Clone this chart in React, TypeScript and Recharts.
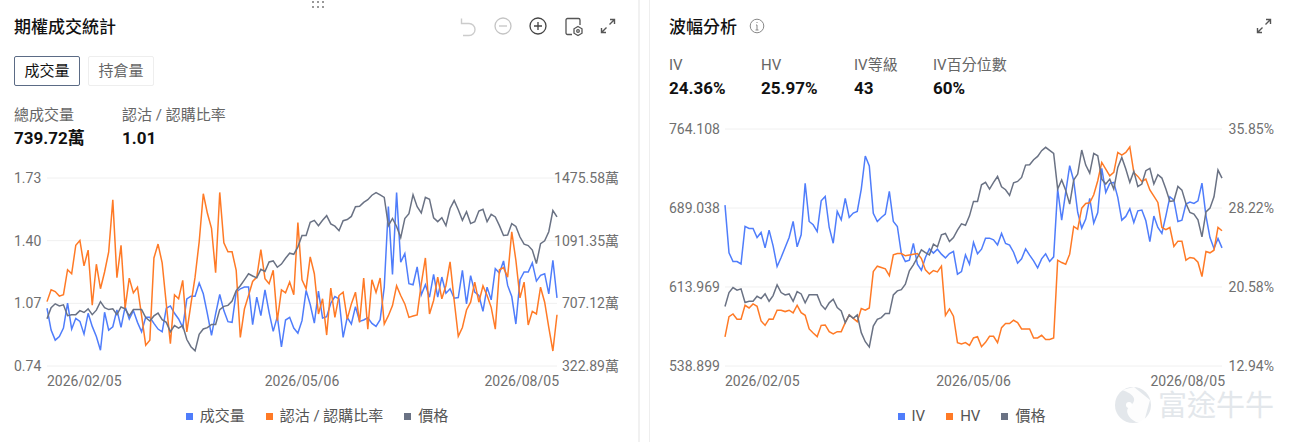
import { CartesianGrid, Legend, Line, LineChart, XAxis, YAxis } from "recharts";

const FONT = 'Roboto, "Noto Sans CJK TC", sans-serif';
const BLUE = "#4f7dfb";
const ORANGE = "#ff7a26";
const GRAY = "#6a7284";
const TICK_COLOR = "#6f6f6f";

const dates = [
	"2026/02/05", "2026/02/06", "2026/02/09", "2026/02/10", "2026/02/11", "2026/02/12", "2026/02/13", "2026/02/17", "2026/02/18", "2026/02/19", "2026/02/20",
	"2026/02/23", "2026/02/24", "2026/02/25", "2026/02/26", "2026/02/27", "2026/03/02", "2026/03/03", "2026/03/04", "2026/03/05", "2026/03/06",
	"2026/03/09", "2026/03/10", "2026/03/11", "2026/03/12", "2026/03/13", "2026/03/16", "2026/03/17", "2026/03/18", "2026/03/19", "2026/03/20",
	"2026/03/23", "2026/03/24", "2026/03/25", "2026/03/26", "2026/03/27", "2026/03/30", "2026/03/31", "2026/04/01", "2026/04/02",
	"2026/04/06", "2026/04/07", "2026/04/08", "2026/04/09", "2026/04/10", "2026/04/13", "2026/04/14", "2026/04/15", "2026/04/16", "2026/04/17",
	"2026/04/20", "2026/04/21", "2026/04/22", "2026/04/23", "2026/04/24", "2026/04/27", "2026/04/28", "2026/04/29", "2026/04/30", "2026/05/01",
	"2026/05/04", "2026/05/05", "2026/05/06", "2026/05/07", "2026/05/08", "2026/05/11", "2026/05/12", "2026/05/13", "2026/05/14", "2026/05/15",
	"2026/05/18", "2026/05/19", "2026/05/20", "2026/05/21", "2026/05/22", "2026/05/26", "2026/05/27", "2026/05/28", "2026/05/29",
	"2026/06/01", "2026/06/02", "2026/06/03", "2026/06/04", "2026/06/05", "2026/06/08", "2026/06/09", "2026/06/10", "2026/06/11", "2026/06/12",
	"2026/06/15", "2026/06/16", "2026/06/17", "2026/06/18", "2026/06/22", "2026/06/23", "2026/06/24", "2026/06/25", "2026/06/26", "2026/06/29", "2026/06/30",
	"2026/07/01", "2026/07/02", "2026/07/06", "2026/07/07", "2026/07/08", "2026/07/09", "2026/07/10", "2026/07/13", "2026/07/14", "2026/07/15", "2026/07/16", "2026/07/17",
	"2026/07/20", "2026/07/21", "2026/07/22", "2026/07/23", "2026/07/24", "2026/07/27", "2026/07/28", "2026/07/29", "2026/07/30", "2026/07/31",
	"2026/08/03", "2026/08/04", "2026/08/05",
];
const xTicks = ["2026/02/05", "2026/05/06", "2026/08/05"];

// 成交量 (萬)
const volume = [
	676.9, 543.1, 481.4, 504.0, 555.5, 707.8, 549.3, 615.2, 596.6, 518.4, 646.0, 565.7, 504.0, 419.6, 652.2, 543.1, 563.7, 666.6, 559.6, 687.2,
	611.0, 662.5, 590.5, 532.8, 621.3, 621.3, 584.3, 549.3, 532.8, 676.9, 691.3, 646.0, 611.0, 559.6, 734.5, 751.0, 751.0, 831.3, 765.4, 641.9,
	510.2, 641.9, 761.3, 662.5, 594.6, 590.5, 775.7, 796.3, 806.6, 806.6, 576.1, 744.8, 631.6, 790.1, 652.2, 534.9, 625.4, 440.2, 604.9, 621.3,
	555.5, 524.6, 600.8, 786.0, 699.6, 586.3, 781.9, 617.2, 625.4, 707.8, 748.9, 734.5, 497.8, 621.3, 580.2, 687.2, 596.6, 604.9, 619.3, 584.3,
	565.7, 606.9, 806.6, 1300.6, 884.8, 1387.1, 958.9, 1012.4, 827.2, 821.0, 930.1, 759.2, 821.0, 744.8, 884.8, 744.8, 868.4, 769.6, 796.3, 738.6,
	742.8, 909.5, 703.7, 876.6, 775.7, 755.1, 658.4, 806.6, 728.4, 919.8, 893.0, 967.1, 816.9, 748.9, 580.2, 851.9, 899.2, 899.2, 954.8, 843.6,
	878.6, 888.9, 765.4, 971.3, 740.7,
];

// 認沽 / 認購比率
const putCallRatio = [
	1.079, 1.141, 1.132, 1.108, 1.116, 1.247, 1.226, 1.376, 1.401, 1.267, 1.35, 1.06, 1.276, 1.147, 1.235, 1.341, 1.615, 1.205, 1.375, 1.046,
	1.203, 1.125, 1.155, 1.005, 0.85, 0.876, 1.309, 1.382, 1.283, 1.067, 0.858, 1.115, 1.094, 1.191, 0.92, 1.067, 1.208, 1.394, 1.647, 1.544,
	1.465, 1.231, 1.654, 1.389, 1.341, 1.341, 1.244, 0.89, 1.04, 1.111, 1.185, 1.208, 1.353, 1.2, 1.173, 1.244, 0.979, 1.141, 1.125, 1.182,
	1.115, 1.495, 1.194, 1.147, 1.315, 1.226, 1.014, 1.094, 0.903, 1.15, 0.996, 1.111, 1.129, 0.987, 1.067, 1.129, 0.97, 1.203, 0.934, 1.194,
	1.127, 1.203, 0.961, 1.005, 1.058, 1.162, 1.111, 1.067, 0.996, 1.003, 1.009, 1.173, 1.309, 1.014, 1.085, 1.208, 1.094, 1.164, 1.288, 1.085,
	0.896, 0.943, 1.035, 1.076, 1.182, 1.076, 1.162, 1.111, 1.049, 0.934, 1.247, 1.258, 1.208, 1.447, 1.297, 1.099, 1.182, 0.956, 1.028, 1.014,
	1.155, 1.076, 0.943, 0.819, 1.01,
];

// 價格
const price = [
	595.4, 608.7, 613.4, 610.9, 612.2, 599.2, 600.4, 600.4, 605.2, 603.0, 607.4, 600.4, 605.8, 616.0, 608.7, 606.5, 607.4, 600.4, 609.6, 607.4,
	598.9, 606.5, 606.5, 606.5, 596.9, 592.8, 598.9, 602.3, 594.4, 591.2, 580.1, 587.4, 584.2, 587.4, 570.6, 562.0, 557.0, 576.9, 583.3, 584.9,
	588.7, 588.7, 606.5, 610.3, 611.5, 616.6, 629.3, 635.0, 642.0, 649.3, 646.7, 644.5, 654.7, 652.1, 663.6, 664.8, 657.2, 661.0, 668.0, 674.0,
	672.7, 681.6, 695.3, 695.3, 711.1, 713.4, 707.0, 713.4, 719.0, 709.2, 706.4, 701.0, 713.0, 714.3, 718.1, 729.8, 730.2, 734.9, 738.1, 743.5,
	746.7, 743.8, 740.9, 707.0, 715.6, 706.0, 692.7, 715.6, 721.3, 744.1, 729.8, 722.2, 740.9, 738.7, 716.5, 711.8, 716.5, 707.0, 727.6, 737.1,
	726.0, 713.4, 723.8, 709.5, 711.8, 724.5, 726.7, 711.8, 720.6, 717.5, 707.0, 695.3, 695.9, 709.5, 706.0, 693.4, 684.8, 683.2, 677.8, 661.6,
	685.4, 688.9, 699.7, 725.1, 717.5,
];

// IV (%)
const iv = [
	28.49, 23.88, 23.04, 23.04, 22.81, 26.43, 26.23, 26.23, 25.36, 25.85, 24.36, 26.07, 24.56, 22.55, 23.43, 24.4, 25.36, 26.91, 24.46, 25.62,
	30.59, 26.91, 26.59, 25.94, 28.91, 29.33, 26.33, 24.81, 27.88, 27.07, 29.14, 27.3, 27.72, 27.88, 30.04, 33.24, 32.27, 27.69, 26.91, 27.3,
	27.62, 29.82, 26.91, 26.43, 23.81, 23.04, 23.17, 24.78, 22.78, 22.2, 23.43, 24.26, 23.85, 24.23, 23.75, 23.39, 23.81, 24.01, 21.81, 22.07,
	23.68, 22.78, 24.88, 23.78, 24.23, 25.3, 25.3, 25.14, 24.65, 25.75, 24.78, 24.62, 23.94, 22.88, 23.3, 24.26, 23.65, 23.1, 22.43, 23.3,
	23.78, 23.04, 23.49, 30.04, 27.04, 29.72, 32.3, 30.85, 27.78, 26.27, 27.14, 29.14, 26.75, 27.78, 32.04, 29.72, 30.59, 30.69, 29.24, 27.04,
	27.4, 28.14, 26.81, 27.94, 28.01, 26.98, 24.97, 27.43, 26.33, 25.75, 27.46, 29.3, 28.98, 26.91, 27.04, 28.59, 28.78, 28.65, 28.91, 30.62,
	27.46, 25.36, 24.3, 25.27, 24.36,
];

// HV (%)
const hv = [
	15.75, 17.71, 17.97, 17.46, 17.46, 18.81, 18.55, 18.94, 18.71, 17.29, 16.87, 17.49, 17.46, 18.33, 18.33, 18.2, 18.33, 18.07, 18.81, 18.1,
	17.84, 16.52, 16.13, 15.78, 16.87, 16.91, 16.26, 16.04, 16.26, 16.26, 17.13, 17.88, 17.55, 17.23, 18.49, 18.33, 18.55, 22.07, 22.59, 22.46,
	22.33, 21.68, 23.68, 23.81, 23.81, 23.59, 23.68, 23.75, 23.81, 23.33, 22.23, 21.84, 22.17, 22.04, 22.59, 17.84, 18.46, 17.75, 15.2, 15.07,
	15.2, 14.94, 15.65, 15.78, 14.81, 15.23, 15.81, 15.81, 15.2, 16.65, 17.04, 17.04, 17.36, 17.13, 16.52, 16.52, 16.52, 15.65, 15.65, 15.91,
	15.51, 15.51, 15.65, 23.17, 22.94, 22.78, 23.75, 26.43, 26.17, 28.2, 28.65, 28.72, 29.49, 30.85, 32.62, 31.98, 31.33, 31.65, 33.59, 33.33,
	33.59, 34.11, 31.65, 31.27, 30.78, 31.01, 29.95, 29.36, 28.75, 26.33, 26.11, 26.33, 24.49, 25.01, 25.01, 23.17, 23.43, 23.36, 22.97, 21.59,
	24.01, 23.88, 24.13, 26.33, 26.01,
];

const ratioTicks = [0.74, 1.07, 1.4, 1.73];
const volumeTicks = [322.89, 707.12, 1091.35, 1475.58];
const priceTicks = [538.899, 613.969, 689.038, 764.108];
const percentTicks = [12.94, 20.58, 28.22, 35.85];

const volumeData = dates.map((date, i) => ({ date, volume: volume[i], ratio: putCallRatio[i], price: price[i] }));
const volatilityData = dates.map((date, i) => ({ date, iv: iv[i], hv: hv[i], price: price[i] }));

// tick labels are flush to the card edges, so they get their own x
const yTick = (x: number, anchor: string, format: (v: number) => string) => (props: any) => (
	<text x={x} y={props.y} dy={5} textAnchor={anchor} fontSize={14} fill={TICK_COLOR} fontFamily={FONT}>
		{format(props.payload.value)}
	</text>
);

const xTick = (endOverhang: number) => (props: any) => {
	const value = props.payload.value;
	const anchor = value === xTicks[0] ? "start" : value === xTicks[2] ? "end" : "middle";
	const dx = value === xTicks[2] ? endOverhang : 0;
	return (
		<text x={props.x + dx} y={386} textAnchor={anchor} fontSize={14} fill={TICK_COLOR} fontFamily={FONT}>
			{value}
		</text>
	);
};

const renderLegend = (props: any) => (
	<div style={{ display: "flex", justifyContent: "center", gap: 21, fontSize: 15, color: "#555", fontFamily: FONT, lineHeight: "20px" }}>
		{props.payload.map((item: any) => (
			<div key={item.value} style={{ display: "flex", alignItems: "center", gap: 7 }}>
				<span style={{ width: 7, height: 7, background: item.color, display: "inline-block" }} />
				<span>{item.value}</span>
			</div>
		))}
	</div>
);

const Stat = ({ left, top, label, value }: { left: number; top: number; label: string; value: string }) => (
	<>
		<div style={{ position: "absolute", left, top, fontSize: 15, lineHeight: "20px", color: "#666", whiteSpace: "nowrap" }}>{label}</div>
		<div style={{ position: "absolute", left, top: top + 22, fontSize: 17, lineHeight: "22px", fontWeight: 700, color: "#111", whiteSpace: "nowrap" }}>{value}</div>
	</>
);

const Title = ({ left, children }: { left: number; children: string }) => (
	<div style={{ position: "absolute", left, top: 15, fontSize: 17, lineHeight: "24px", fontWeight: 500, color: "#111", whiteSpace: "nowrap" }}>{children}</div>
);

const ExpandIcon = ({ left }: { left: number }) => (
	<svg style={{ position: "absolute", left, top: 18 }} width={16} height={16} fill="none" stroke="#555" strokeWidth={1.4}>
		<path d="M9.5 6.5 14.5 1.5M10 1.5h4.5V6M6.5 9.5 1.5 14.5M6 14.5H1.5V10" />
	</svg>
);

const Toolbar = () => (
	<>
		<svg style={{ position: "absolute", left: 460, top: 17 }} width={18} height={20} fill="none" stroke="#ccc" strokeWidth={1.4}>
			<path d="M1.5 1.5v5h5M2 6.5h7a6 6 0 0 1 0 12H3" />
		</svg>
		<svg style={{ position: "absolute", left: 494, top: 17 }} width={18} height={18} fill="none" stroke="#c4c4c4" strokeWidth={1.3}>
			<circle cx={9} cy={9} r={8} />
			<path d="M5 9h8" />
		</svg>
		<svg style={{ position: "absolute", left: 529, top: 17 }} width={18} height={18} fill="none" stroke="#444" strokeWidth={1.3}>
			<circle cx={9} cy={9} r={8} />
			<path d="M5 9h8M9 5v8" />
		</svg>
		<svg style={{ position: "absolute", left: 565, top: 17 }} width={19} height={20} fill="none" stroke="#555" strokeWidth={1.3}>
			<path d="M7 17.5H2.5a1.5 1.5 0 0 1-1.5-1.5V3a1.5 1.5 0 0 1 1.5-1.5h11A1.5 1.5 0 0 1 15 3v5" />
			<path d="M13 9.5l4 2.3v4.4l-4 2.3-4-2.3v-4.4z" />
			<circle cx={13} cy={14} r={1.3} />
		</svg>
		<ExpandIcon left={600} />
	</>
);

export default function App() {
	return (
		<div style={{ position: "relative", width: 1295, height: 442, overflow: "hidden", background: "#fff", fontFamily: FONT }}>
			<style>{"body{margin:0}"}</style>

			{/* drag handle */}
			<svg style={{ position: "absolute", left: 311, top: 0 }} width={16} height={8} fill="#999">
				{[1, 6, 11].map((x) => [1, 6].map((y) => <rect key={`${x}-${y}`} x={x} y={y} width={2} height={2} />))}
			</svg>

			{/* card edges */}
			<div style={{ position: "absolute", left: 638, top: 0, width: 2, height: 442, background: "#f1f1f1" }} />
			<div style={{ position: "absolute", left: 649, top: 0, width: 1, height: 442, background: "#eeeeee" }} />

			<Title left={14}>期權成交統計</Title>
			<Toolbar />

			<div style={{ position: "absolute", left: 14, top: 56, width: 66, height: 30, boxSizing: "border-box", border: "1px solid #5b6b85", borderRadius: 2, fontSize: 15, lineHeight: "28px", textAlign: "center", color: "#111" }}>成交量</div>
			<div style={{ position: "absolute", left: 88, top: 56, width: 66, height: 30, boxSizing: "border-box", border: "1px solid #eeeeee", borderRadius: 2, fontSize: 15, lineHeight: "28px", textAlign: "center", color: "#666" }}>持倉量</div>

			<Stat left={14} top={105} label="總成交量" value="739.72萬" />
			<Stat left={122} top={105} label="認沽 / 認購比率" value="1.01" />

			<Title left={669}>波幅分析</Title>
			<svg style={{ position: "absolute", left: 749, top: 18 }} width={16} height={16} fill="none" stroke="#888" strokeWidth={1}>
				<circle cx={8} cy={8} r={6.8} />
				<path d="M8 7v5M6.5 12h3M7 7h1M8 4v1" />
			</svg>
			<ExpandIcon left={1256} />

			<Stat left={669} top={55} label="IV" value="24.36%" />
			<Stat left={761} top={55} label="HV" value="25.97%" />
			<Stat left={854} top={55} label="IV等級" value="43" />
			<Stat left={933} top={55} label="IV百分位數" value="60%" />

			<div style={{ position: "absolute", left: 0, top: 0 }}>
				<LineChart width={640} height={442} data={volumeData} margin={{ top: 178, bottom: 46, left: 14, right: 21 }}>
					<CartesianGrid vertical={false} stroke="#f0f0f0" yAxisId="ratio" />
					<XAxis dataKey="date" ticks={xTicks} interval={0} axisLine={false} tickLine={false} height={30} tick={xTick(2)} />
					<YAxis yAxisId="ratio" width={33} domain={[0.74, 1.73]} ticks={ratioTicks} axisLine={false} tickLine={false} tick={yTick(14, "start", (v) => v.toFixed(2))} />
					<YAxis yAxisId="volume" orientation="right" width={62} domain={[322.89, 1475.58]} ticks={volumeTicks} axisLine={false} tickLine={false} tick={yTick(619, "end", (v) => `${v.toFixed(2)}萬`)} />
					<YAxis yAxisId="price" hide domain={[538.899, 764.108]} />
					<Legend layout="horizontal" align="center" verticalAlign="middle" itemSorter={null} wrapperStyle={{ top: 406, left: 0, width: 634 }} content={renderLegend} />
					<Line yAxisId="volume" dataKey="volume" name="成交量" stroke={BLUE} strokeWidth={1.5} dot={false} isAnimationActive={false} />
					<Line yAxisId="ratio" dataKey="ratio" name="認沽 / 認購比率" stroke={ORANGE} strokeWidth={1.5} dot={false} isAnimationActive={false} />
					<Line yAxisId="price" dataKey="price" name="價格" stroke={GRAY} strokeWidth={1.5} dot={false} isAnimationActive={false} />
				</LineChart>
			</div>

			<div style={{ position: "absolute", left: 650, top: 0 }}>
				<LineChart width={645} height={442} data={volatilityData} margin={{ top: 129, bottom: 46, left: 19, right: 21 }}>
					<CartesianGrid vertical={false} stroke="#f0f0f0" yAxisId="price" />
					<XAxis dataKey="date" ticks={xTicks} interval={0} axisLine={false} tickLine={false} height={30} tick={xTick(3)} />
					<YAxis yAxisId="price" width={56} domain={[538.899, 764.108]} ticks={priceTicks} axisLine={false} tickLine={false} tick={yTick(19, "start", (v) => v.toFixed(3))} />
					<YAxis yAxisId="percent" orientation="right" width={52} domain={[12.94, 35.85]} ticks={percentTicks} axisLine={false} tickLine={false} tick={yTick(624, "end", (v) => `${v.toFixed(2)}%`)} />
					<Legend layout="horizontal" align="center" verticalAlign="middle" itemSorter={null} wrapperStyle={{ top: 406, left: 0, width: 643 }} content={renderLegend} />
					<Line yAxisId="percent" dataKey="iv" name="IV" stroke={BLUE} strokeWidth={1.5} dot={false} isAnimationActive={false} />
					<Line yAxisId="percent" dataKey="hv" name="HV" stroke={ORANGE} strokeWidth={1.5} dot={false} isAnimationActive={false} />
					<Line yAxisId="price" dataKey="price" name="價格" stroke={GRAY} strokeWidth={1.5} dot={false} isAnimationActive={false} />
				</LineChart>
			</div>

			{/* watermark */}
			<svg style={{ position: "absolute", left: 1114, top: 386 }} width={38} height={38}>
				<circle cx={19} cy={19} r={18} fill="#e3e7eb" />
				<path d="M8 4 C20 8 24 14 16 20 C10 24 14 32 22 36 L30 36 L36 14 L20 1z" fill="#fff" opacity={0.9} />
				<circle cx={15} cy={19} r={3} fill="#fff" />
			</svg>
			<div style={{ position: "absolute", left: 1158, top: 388, fontSize: 29, lineHeight: "36px", color: "#e3e7eb", whiteSpace: "nowrap" }}>富途牛牛</div>
		</div>
	);
}
